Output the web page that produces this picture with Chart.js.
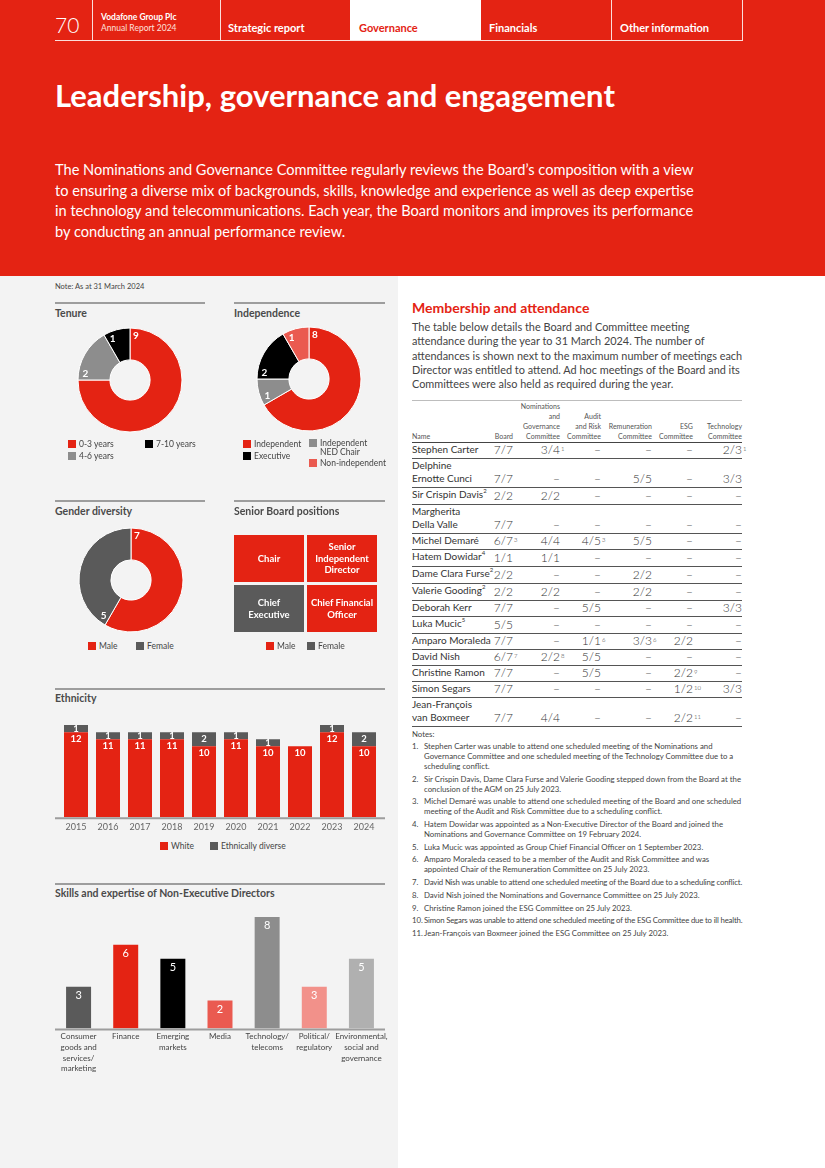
<!DOCTYPE html>
<html>
<head>
<meta charset="utf-8">
<script src="https://cdn.jsdelivr.net/npm/chart.js@4.4.1/dist/chart.umd.min.js"></script>
<style>
    * { box-sizing: border-box; }
    body { margin: 0; width: 825px; height: 1168px; position: relative; overflow: hidden; background: #fff; color: #333; font-family: Lato, "Open Sans", sans-serif; }
    .abs { position: absolute; white-space: nowrap; }
    #band { left: 0; top: 0; width: 825px; height: 276px; background: #e42313; }
    #panel { left: 0; top: 276px; width: 398px; height: 892px; background: #f3f3f3; }
    .vline { position: absolute; top: 0; width: 1px; height: 40px; background: rgba(255, 255, 255, 0.85); }
    .nav { position: absolute; top: 20px; font-size: 11px; font-weight: 700; line-height: 16px; color: #fff; }
    .rule { position: absolute; height: 2px; background: #9d9d9d; }
    .title { position: absolute; font-size: 10.5px; font-weight: 700; color: #4a4a4a; line-height: 14px; }
    .legend { position: absolute; font-size: 8.5px; color: #444; line-height: 11px; white-space: nowrap; }
    .sw { display: inline-block; width: 8px; height: 8px; margin-right: 3px; vertical-align: -1px; }
    canvas { position: absolute; }
    .cell { position: absolute; width: 70px; height: 47px; display: flex; align-items: center; justify-content: center; text-align: center; color: #fff; font-weight: 700; font-size: 9.5px; line-height: 11.5px; }
    table { position: absolute; left: 412px; top: 400px; width: 330px; border-collapse: collapse; table-layout: fixed; }
    td, th { padding: 0; vertical-align: bottom; }
    thead tr { border-top: 1.5px solid #bdbdbd; border-bottom: 1px solid #444; }
    th { font-size: 7px; font-weight: 400; color: #555; line-height: 10px; text-align: right; padding-bottom: 1px; height: 42px; }
    th.name { text-align: left; }
    tbody tr { border-bottom: 1px solid #555; }
    td.name { font-size: 10px; line-height: 13px; color: #333; padding-bottom: 2px; white-space: nowrap; overflow: visible; }
    td.val { font-size: 12px; font-weight: 300; line-height: 14px; text-align: right; color: #333; padding-bottom: 1px; }
    .v { position: relative; display: inline-block; }
    .v sup, .name sup { font-size: 6px; vertical-align: 0; position: relative; top: -5px; }
    .v sup { position: absolute; left: 100%; top: -1px; padding-left: 1px; }
    #notes { position: absolute; left: 412px; top: 729px; width: 340px; font-size: 7.8px; color: #444; }
    .note { display: flex; line-height: 10px; margin-bottom: 2.7px; }
    .note .n { width: 12px; flex: none; }
    .ln { white-space: nowrap; display: block; width: max-content; }
</style>
</head>
<body>
<div id="band" class="abs"></div>
<div id="panel" class="abs"></div>

<!-- top navigation -->
<div class="abs" style="left:350px;top:0;width:131px;height:40px;background:#fff"></div>
<div class="vline" style="left:92px"></div>
<div class="vline" style="left:220px"></div>
<div class="vline" style="left:611px"></div>
<div class="vline" style="left:742px"></div>
<div class="abs" style="left:55px;top:40px;width:688px;height:1px;background:rgba(255,255,255,0.85)"></div>
<div class="abs" style="left:55px;top:12px;font-size:21px;font-weight:300;color:#fff;line-height:26px">70</div>
<div class="abs" style="left:101px;top:12px;font-size:8.5px;font-weight:700;color:#fff;line-height:11px">Vodafone Group Plc</div>
<div class="abs" style="left:101px;top:23px;font-size:8.5px;color:#fde0dc;line-height:11px">Annual Report 2024</div>
<div class="nav" style="left:228px">Strategic report</div>
<div class="nav" style="left:359px;color:#e42313">Governance</div>
<div class="nav" style="left:489px">Financials</div>
<div class="nav" style="left:620px">Other information</div>

<div class="abs" style="left:55px;top:76px;font-size:31px;font-weight:700;color:#fff;line-height:38px">Leadership, governance and engagement</div>
<div class="abs" style="left:55px;top:160px;font-size:14.6px;color:#fff;line-height:20.5px">
    The Nominations and Governance Committee regularly reviews the Board’s composition with a view<br>
    to ensuring a diverse mix of backgrounds, skills, knowledge and experience as well as deep expertise<br>
    in technology and telecommunications. Each year, the Board monitors and improves its performance<br>
    by conducting an annual performance review.
</div>

<!-- left panel -->
<div class="abs" style="left:55px;top:282px;font-size:7.5px;font-weight:400;color:#444;line-height:10px">Note: As at 31 March 2024</div>

<div class="rule" style="left:55px;top:302px;width:150px"></div>
<div class="title" style="left:55px;top:306px">Tenure</div>
<canvas id="tenure" width="120" height="120" style="left:70px;top:320px"></canvas>
<div id="tenure-legend"></div>

<div class="rule" style="left:234px;top:302px;width:151px"></div>
<div class="title" style="left:234px;top:306px">Independence</div>
<canvas id="independence" width="120" height="120" style="left:249px;top:319px"></canvas>
<div id="independence-legend"></div>

<div class="rule" style="left:55px;top:500px;width:150px"></div>
<div class="title" style="left:55px;top:504px">Gender diversity</div>
<canvas id="gender" width="120" height="120" style="left:71px;top:520px"></canvas>
<div id="gender-legend"></div>

<div class="rule" style="left:234px;top:500px;width:151px"></div>
<div class="title" style="left:234px;top:504px">Senior Board positions</div>
<div id="senior"></div>
<div id="senior-legend"></div>

<div class="rule" style="left:55px;top:688px;width:330px"></div>
<div class="title" style="left:55px;top:691px">Ethnicity</div>
<canvas id="ethnicity" width="330" height="124" style="left:55px;top:712px"></canvas>
<div id="ethnicity-legend"></div>

<div class="rule" style="left:55px;top:883px;width:330px"></div>
<div class="title" style="left:55px;top:886px">Skills and expertise of Non-Executive Directors</div>
<canvas id="skills" width="340" height="179" style="left:55px;top:898px"></canvas>

<!-- right column -->
<div class="abs" style="left:412px;top:299px;font-size:14px;font-weight:700;color:#e42313;line-height:18px">Membership and attendance</div>
<div class="abs" style="left:412px;top:320px;font-size:10.9px;color:#444;line-height:14.3px">
    The table below details the Board and Committee meeting<br>
    attendance during the year to 31 March 2024. The number of<br>
    attendances is shown next to the maximum number of meetings each<br>
    Director was entitled to attend. Ad hoc meetings of the Board and its<br>
    Committees were also held as required during the year.
</div>
<table id="attendance">
    <colgroup>
        <col style="width:78px"><col style="width:23px"><col style="width:47px"><col style="width:41px">
        <col style="width:51px"><col style="width:41px"><col style="width:49px">
    </colgroup>
    <thead><tr id="head"></tr></thead>
    <tbody id="rows"></tbody>
</table>
<div id="notes"></div>

<script>
const tenureLabels = ["0-3 years", "4-6 years", "7-10 years"];
const tenureValues = [9, 2, 1];

const independenceLabels = ["Independent", "Independent NED Chair", "Executive", "Non-independent"];
const independenceValues = [8, 1, 2, 1];

const genderLabels = ["Male", "Female"];
const genderValues = [7, 5];

const seniorRoles = ["Chair", "Senior Independent Director", "Chief Executive", "Chief Financial Officer"];
const seniorGender = ["Male", "Male", "Female", "Male"];

const years = ["2015", "2016", "2017", "2018", "2019", "2020", "2021", "2022", "2023", "2024"];
const whiteCount = [12, 11, 11, 11, 10, 11, 10, 10, 12, 10];
const diverseCount = [1, 1, 1, 1, 2, 1, 1, 0, 1, 2];

const skillLabels = [
    ["Consumer", "goods and", "services/", "marketing"],
    ["Finance"],
    ["Emerging", "markets"],
    ["Media"],
    ["Technology/", "telecoms"],
    ["Political/", "regulatory"],
    ["Environmental,", "social and", "governance"]
];
const skillValues = [3, 6, 5, 2, 8, 3, 5];

const columnHeads = [
    ["Name"], ["Board"], ["Nominations", "and", "Governance", "Committee"], ["Audit", "and Risk", "Committee"],
    ["Remuneration", "Committee"], ["ESG", "Committee"], ["Technology", "Committee"]
];
// "^" marks a footnote reference
const directors = [
    ["Stephen Carter"], ["Delphine", "Ernotte Cunci"], ["Sir Crispin Davis^2"], ["Margherita", "Della Valle"],
    ["Michel Demaré"], ["Hatem Dowidar^4"], ["Dame Clara Furse^2"], ["Valerie Gooding^2"], ["Deborah Kerr"],
    ["Luka Mucic^5"], ["Amparo Moraleda"], ["David Nish"], ["Christine Ramon"], ["Simon Segars"],
    ["Jean-François", "van Boxmeer"]
];
const attendance = [
    ["7/7", "3/4^1", "–", "–", "–", "2/3^1"],
    ["7/7", "–", "–", "5/5", "–", "3/3"],
    ["2/2", "2/2", "–", "–", "–", "–"],
    ["7/7", "–", "–", "–", "–", "–"],
    ["6/7^3", "4/4", "4/5^3", "5/5", "–", "–"],
    ["1/1", "1/1", "–", "–", "–", "–"],
    ["2/2", "–", "–", "2/2", "–", "–"],
    ["2/2", "2/2", "–", "2/2", "–", "–"],
    ["7/7", "–", "5/5", "–", "–", "3/3"],
    ["5/5", "–", "–", "–", "–", "–"],
    ["7/7", "–", "1/1^6", "3/3^6", "2/2", "–"],
    ["6/7^7", "2/2^8", "5/5", "–", "–", "–"],
    ["7/7", "–", "5/5", "–", "2/2^9", "–"],
    ["7/7", "–", "–", "–", "1/2^10", "3/3"],
    ["7/7", "4/4", "–", "–", "2/2^11", "–"]
];

const notes = [
    ["Stephen Carter was unable to attend one scheduled meeting of the Nominations and", "Governance Committee and one scheduled meeting of the Technology Committee due to a", "scheduling conflict."],
    ["Sir Crispin Davis, Dame Clara Furse and Valerie Gooding stepped down from the Board at the", "conclusion of the AGM on 25 July 2023."],
    ["Michel Demaré was unable to attend one scheduled meeting of the Board and one scheduled", "meeting of the Audit and Risk Committee due to a scheduling conflict."],
    ["Hatem Dowidar was appointed as a Non-Executive Director of the Board and joined the", "Nominations and Governance Committee on 19 February 2024."],
    ["Luka Mucic was appointed as Group Chief Financial Officer on 1 September 2023."],
    ["Amparo Moraleda ceased to be a member of the Audit and Risk Committee and was", "appointed Chair of the Remuneration Committee on 25 July 2023."],
    ["David Nish was unable to attend one scheduled meeting of the Board due to a scheduling conflict."],
    ["David Nish joined the Nominations and Governance Committee on 25 July 2023."],
    ["Christine Ramon joined the ESG Committee on 25 July 2023."],
    ["Simon Segars was unable to attend one scheduled meeting of the ESG Committee due to ill health."],
    ["Jean-François van Boxmeer joined the ESG Committee on 25 July 2023."]
];

const RED = "#e42313";
const LIGHT_RED = "#ea5a50";
const DARK = "#5a5a5a";
const GREY = "#8d8d8d";
const BLACK = "#000000";
const genderColor = { Male: RED, Female: DARK };

Chart.defaults.font.family = "Lato, 'Open Sans', sans-serif";

function legend(id, items, left, top) {
    const el = document.getElementById(id);
    items.forEach(([label, color, x, y]) => {
        const d = document.createElement("div");
        d.className = "legend";
        d.style.left = (left + x) + "px";
        d.style.top = (top + y) + "px";
        d.innerHTML = `<span class="sw" style="background:${color}"></span>${label}`;
        el.appendChild(d);
    });
}

// value written near the start edge of each slice
const sliceLabels = {
    id: "sliceLabels",
    afterDatasetsDraw(chart) {
        const ctx = chart.ctx;
        const values = chart.data.datasets[0].data;
        ctx.save();
        ctx.font = "bold 10px Lato";
        ctx.fillStyle = "#fff";
        ctx.textAlign = "center";
        ctx.textBaseline = "middle";
        chart.getDatasetMeta(0).data.forEach((arc, i) => {
            const a = arc.startAngle + 0.13;
            const r = arc.outerRadius - 7;
            ctx.fillText(values[i], arc.x + r * Math.cos(a), arc.y + r * Math.sin(a));
        });
        ctx.restore();
    }
};

function donut(id, labels, values, colors) {
    return new Chart(document.getElementById(id), {
        type: "doughnut",
        data: {
            labels,
            datasets: [{ data: values, backgroundColor: colors, borderColor: "#ffffff", borderWidth: 1 }]
        },
        options: {
            responsive: false,
            animation: false,
            radius: 52,
            cutout: 23,
            plugins: { legend: { display: false }, tooltip: { enabled: false } }
        },
        plugins: [sliceLabels]
    });
}

donut("tenure", tenureLabels, tenureValues, [RED, GREY, BLACK]);
legend("tenure-legend", [
    [tenureLabels[0], RED, 0, 0], [tenureLabels[2], BLACK, 77, 0], [tenureLabels[1], GREY, 0, 12]
], 68, 439);

donut("independence", independenceLabels, independenceValues, [RED, GREY, BLACK, LIGHT_RED]);
legend("independence-legend", [
    [independenceLabels[0], RED, 0, 0], ["Independent<br><span style='padding-left:11px'>NED Chair</span>", GREY, 66, 0],
    [independenceLabels[2], BLACK, 0, 12], [independenceLabels[3], LIGHT_RED, 66, 19]
], 243, 439);
document.querySelectorAll("#independence-legend .legend")[1].style.lineHeight = "9px";

donut("gender", genderLabels, genderValues, [RED, DARK]);
legend("gender-legend", [[genderLabels[0], RED, 0, 0], [genderLabels[1], DARK, 48, 0]], 88, 641);

// senior board positions: 2 x 2 grid
seniorRoles.forEach((role, i) => {
    const d = document.createElement("div");
    d.className = "cell";
    d.style.left = (234 + (i % 2) * 73) + "px";
    d.style.top = (535 + Math.floor(i / 2) * 50) + "px";
    d.style.background = genderColor[seniorGender[i]];
    d.innerHTML = role === "Senior Independent Director" ? "Senior<br>Independent<br>Director"
        : role === "Chief Financial Officer" ? "Chief Financial<br>Officer"
        : role.replace(" ", "<br>");
    document.getElementById("senior").appendChild(d);
});
legend("senior-legend", [["Male", RED, 0, 0], ["Female", DARK, 41, 0]], 266, 641);

const baseLine = {
    id: "baseLine",
    afterDatasetsDraw(chart) {
        const { ctx, chartArea } = chart;
        ctx.save();
        ctx.strokeStyle = "#9d9d9d";
        ctx.lineWidth = 2;
        ctx.beginPath();
        ctx.moveTo(0, chartArea.bottom + 1);
        ctx.lineTo(Math.min(chart.width, 330), chartArea.bottom + 1);
        ctx.stroke();
        ctx.restore();
    }
};

const stackLabels = {
    id: "stackLabels",
    afterDatasetsDraw(chart) {
        const ctx = chart.ctx;
        ctx.save();
        ctx.font = "bold 9.5px Lato";
        ctx.fillStyle = "#fff";
        ctx.textAlign = "center";
        ctx.textBaseline = "middle";
        chart.data.datasets.forEach((ds, di) => {
            chart.getDatasetMeta(di).data.forEach((bar, i) => {
                const v = ds.data[i];
                if (!v) return;
                const y = di === 0 ? bar.y + 7 : (bar.y + bar.base) / 2;
                ctx.fillText(v, bar.x, y);
            });
        });
        ctx.restore();
    }
};

new Chart(document.getElementById("ethnicity"), {
    type: "bar",
    data: {
        labels: years,
        datasets: [
            { label: "White", data: whiteCount, backgroundColor: RED },
            { label: "Ethnically diverse", data: diverseCount, backgroundColor: DARK }
        ]
    },
    options: {
        responsive: false,
        animation: false,
        layout: { padding: { top: 6, left: 5, right: 5 } },
        datasets: { bar: { barPercentage: 0.75, categoryPercentage: 1 } },
        scales: {
            x: {
                stacked: true,
                grid: { display: false, drawTicks: false },
                border: { display: false },
                ticks: { color: "#666", font: { size: 9 }, padding: 4 }
            },
            y: { stacked: true, display: false, min: 0, max: 14 }
        },
        plugins: { legend: { display: false }, tooltip: { enabled: false } }
    },
    plugins: [baseLine, stackLabels]
});
legend("ethnicity-legend", [["White", RED, 0, 0], ["Ethnically diverse", DARK, 50, 0]], 160, 841);

const barValues = {
    id: "barValues",
    afterDatasetsDraw(chart) {
        const ctx = chart.ctx;
        ctx.save();
        ctx.font = "11px Lato";
        ctx.fillStyle = "#fff";
        ctx.textAlign = "center";
        ctx.textBaseline = "middle";
        chart.getDatasetMeta(0).data.forEach((bar, i) => {
            ctx.fillText(chart.data.datasets[0].data[i], bar.x, bar.y + 9);
        });
        ctx.restore();
    }
};

new Chart(document.getElementById("skills"), {
    type: "bar",
    data: {
        labels: skillLabels,
        datasets: [{
            data: skillValues,
            backgroundColor: [DARK, RED, BLACK, LIGHT_RED, GREY, "#f2918a", "#b0b0b0"]
        }]
    },
    options: {
        responsive: false,
        animation: false,
        layout: { padding: { top: 5, right: 10 } },
        datasets: { bar: { barPercentage: 0.53, categoryPercentage: 1 } },
        scales: {
            x: {
                grid: { display: false, drawTicks: false },
                border: { display: false },
                ticks: { color: "#444", font: { size: 8, lineHeight: 1.33 }, padding: 3, autoSkip: false, maxRotation: 0, minRotation: 0 }
            },
            y: { display: false, min: 0, max: 9 }
        },
        plugins: { legend: { display: false }, tooltip: { enabled: false } }
    },
    plugins: [baseLine, barValues]
});

// attendance table
const sup = (s) => {
    const [main, ref] = s.split("^");
    return ref ? `${main}<sup>${ref}</sup>` : main;
};
document.getElementById("head").innerHTML = columnHeads
    .map((lines, i) => `<th class="${i === 0 ? "name" : ""}">${lines.join("<br>")}</th>`).join("");
document.getElementById("rows").innerHTML = directors.map((name, r) => {
    const h = name.length > 1 ? 29 : 16;
    const cells = attendance[r].map(v => `<td class="val"><span class="v">${sup(v)}</span></td>`).join("");
    return `<tr style="height:${h}px"><td class="name">${name.map(n => sup(n)).join("<br>")}</td>${cells}</tr>`;
}).join("");

document.getElementById("notes").innerHTML = `<div style="line-height:10px;margin-bottom:2px">Notes:</div>` +
    notes.map((lines, i) => `<div class="note"><span class="n">${i + 1}.</span><div>${lines.map(l => `<span class="ln">${l}</span>`).join("")}</div></div>`).join("");
// the original squeezes over-long note lines into the column
document.querySelectorAll("#notes .ln").forEach(el => {
    const w = el.getBoundingClientRect().width;
    if (w > 318) el.style.letterSpacing = (-(w - 318) / el.textContent.length) + "px";
});
</script>
</body>
</html>
